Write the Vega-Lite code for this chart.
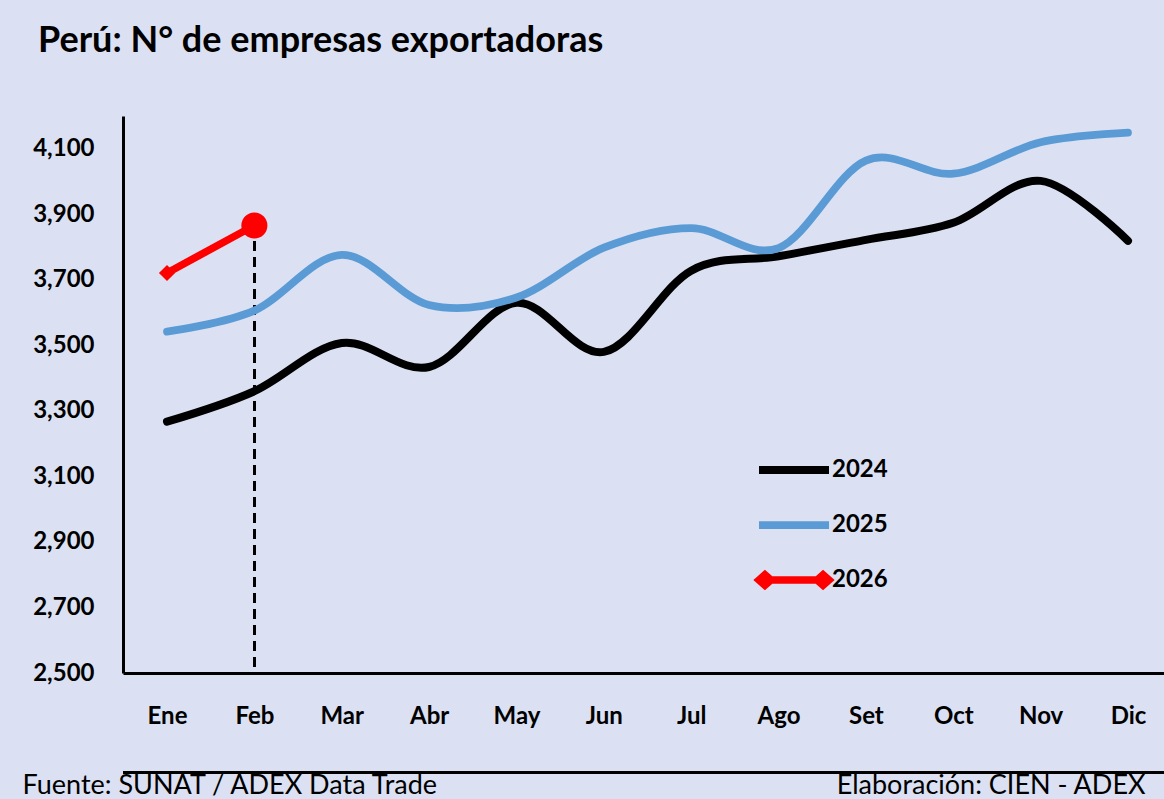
{
  "$schema": "https://vega.github.io/schema/vega-lite/v6.json",
  "autosize": "none",
  "width": 1041,
  "height": 557,
  "padding": {"left": 123, "top": 116, "right": 0, "bottom": 126},
  "background": "#dbe1f2",
  "title": {
    "text": "Perú: N° de empresas exportadoras",
    "anchor": "start",
    "frame": "group",
    "orient": "top",
    "dx": -85,
    "offset": 28,
    "baseline": "alphabetic",
    "font": "Lato",
    "fontSize": 36,
    "fontWeight": "bold",
    "color": "#000000"
  },
  "data": {
    "values": [
      {"mes": "Ene", "serie": "2024", "valor": 3267},
      {"mes": "Feb", "serie": "2024", "valor": 3360},
      {"mes": "Mar", "serie": "2024", "valor": 3507},
      {"mes": "Abr", "serie": "2024", "valor": 3434},
      {"mes": "May", "serie": "2024", "valor": 3630},
      {"mes": "Jun", "serie": "2024", "valor": 3480},
      {"mes": "Jul", "serie": "2024", "valor": 3728},
      {"mes": "Ago", "serie": "2024", "valor": 3772},
      {"mes": "Set", "serie": "2024", "valor": 3822},
      {"mes": "Oct", "serie": "2024", "valor": 3874},
      {"mes": "Nov", "serie": "2024", "valor": 4002},
      {"mes": "Dic", "serie": "2024", "valor": 3819},
      {"mes": "Ene", "serie": "2025", "valor": 3542},
      {"mes": "Feb", "serie": "2025", "valor": 3606},
      {"mes": "Mar", "serie": "2025", "valor": 3776},
      {"mes": "Abr", "serie": "2025", "valor": 3623},
      {"mes": "May", "serie": "2025", "valor": 3646},
      {"mes": "Jun", "serie": "2025", "valor": 3798},
      {"mes": "Jul", "serie": "2025", "valor": 3858},
      {"mes": "Ago", "serie": "2025", "valor": 3797},
      {"mes": "Set", "serie": "2025", "valor": 4064},
      {"mes": "Oct", "serie": "2025", "valor": 4024},
      {"mes": "Nov", "serie": "2025", "valor": 4120},
      {"mes": "Dic", "serie": "2025", "valor": 4149},
      {"mes": "Ene", "serie": "2026", "valor": 3721},
      {"mes": "Feb", "serie": "2026", "valor": 3866}
    ]
  },
  "encoding": {
    "x": {
      "field": "mes",
      "type": "ordinal",
      "sort": ["Ene", "Feb", "Mar", "Abr", "May", "Jun", "Jul", "Ago", "Set", "Oct", "Nov", "Dic"],
      "scale": {"type": "point", "padding": 0.458, "align": 0.55},
      "axis": {
        "title": "Fuente: SUNAT / ADEX Data Trade",
        "titleX": -101,
        "titleY": 120,
        "titleAlign": "left",
        "titleAnchor": null,
        "titleBaseline": "alphabetic",
        "titleFont": "Lato",
        "titleFontSize": 27,
        "titleFontWeight": "normal",
        "titleColor": "#000000",
        "domainColor": "#000000",
        "domainWidth": 3,
        "ticks": false,
        "grid": false,
        "labelAngle": 0,
        "labelPadding": 31,
        "labelFont": "Lato",
        "labelFontSize": 24,
        "labelFontWeight": "bold",
        "labelColor": "#000000"
      }
    },
    "y": {
      "field": "valor",
      "type": "quantitative",
      "scale": {"domain": [2500, 4200], "nice": false, "zero": false},
      "axis": {
        "values": [2500, 2700, 2900, 3100, 3300, 3500, 3700, 3900, 4100],
        "format": ",.0f",
        "title": "Elaboración: CIEN - ADEX",
        "titleAngle": 0,
        "titleX": 1022,
        "titleY": 677,
        "titleAlign": "right",
        "titleAnchor": null,
        "titleBaseline": "alphabetic",
        "titleFont": "Lato",
        "titleFontSize": 27,
        "titleFontWeight": "normal",
        "titleColor": "#000000",
        "domainColor": "#000000",
        "domainWidth": 3,
        "ticks": false,
        "grid": false,
        "labelPadding": 29,
        "labelFont": "Lato",
        "labelFontSize": 24,
        "labelFontWeight": "bold",
        "labelColor": "#000000"
      }
    }
  },
  "layer": [
    {
      "mark": {"type": "rule", "color": "#000000", "strokeWidth": 2.5, "strokeDash": [9, 7]},
      "encoding": {
        "x": {"datum": "Feb"},
        "y": {"datum": 3866},
        "y2": {"datum": 2500}
      }
    },
    {
      "mark": {"type": "rule", "color": "#000000", "strokeWidth": 2.5, "clip": false},
      "encoding": {
        "x": null,
        "y": {"datum": 2196}
      }
    },
    {
      "mark": {"type": "line", "interpolate": "cardinal", "strokeCap": "round", "strokeJoin": "round"},
      "encoding": {
        "color": {
          "field": "serie",
          "type": "nominal",
          "scale": {"domain": ["2024", "2025", "2026"], "range": ["#000000", "#5b9bd5", "#ff0000"]},
          "legend": {
            "title": null,
            "orient": "none",
            "legendX": 632,
            "legendY": 315,
            "padding": 0,
            "symbolType": "stroke",
            "symbolSize": 4900,
            "symbolStrokeWidth": 8,
            "rowPadding": -6,
            "labelOffset": -1,
            "labelFont": "Lato",
            "labelFontSize": 24,
            "labelFontWeight": "bold",
            "labelColor": "#000000",
            "encode": {
              "symbols": {
                "update": {
                  "shape": {"signal": "datum.value === '2026' ? 'M-1,0L1,0M-1,0L-0.83,-0.15L-0.66,0L-0.83,0.15Z M0.66,0L0.83,-0.15L1,0L0.83,0.15Z' : 'stroke'"},
                  "fill": {"signal": "datum.value === '2026' ? '#ff0000' : 'transparent'"},
                  "strokeWidth": {"signal": "datum.value === '2026' ? 5 : 8"}
                }
              }
            }
          }
        },
        "strokeWidth": {
          "field": "serie",
          "type": "nominal",
          "scale": {"domain": ["2024", "2025", "2026"], "range": [8, 7.5, 6]},
          "legend": null
        }
      }
    },
    {
      "transform": [{"filter": "datum.serie === '2026' && datum.mes === 'Ene'"}],
      "mark": {"type": "point", "shape": "diamond", "filled": true, "size": 260, "color": "#ff0000", "opacity": 1}
    },
    {
      "transform": [{"filter": "datum.serie === '2026' && datum.mes === 'Feb'"}],
      "mark": {"type": "point", "shape": "circle", "filled": true, "size": 680, "color": "#ff0000", "opacity": 1}
    }
  ],
  "config": {
    "view": {"stroke": null},
    "font": "Lato"
  }
}
